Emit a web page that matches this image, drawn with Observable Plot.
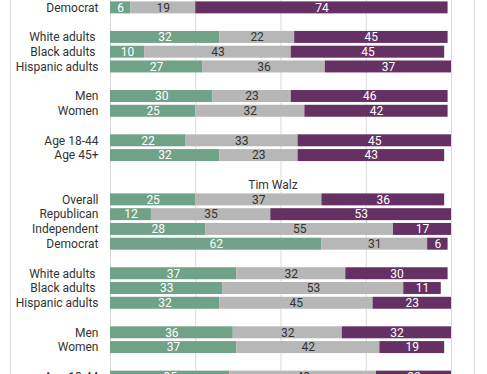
<!DOCTYPE html>
<html><head><meta charset="utf-8">
<script src="https://cdn.jsdelivr.net/npm/d3@7"></script>
<script src="https://cdn.jsdelivr.net/npm/@observablehq/plot@0.6"></script>
<style>
html,body{margin:0;padding:0;background:#fff;}
#wrap{position:relative;width:487px;height:374px;overflow:hidden;}
#frame{position:absolute;left:10px;top:0;width:463px;height:374px;border-left:1px solid #d9d9d9;border-right:1px solid #d9d9d9;pointer-events:none;}
</style></head><body>
<div id="wrap"><div id="chart"></div><div id="frame"></div></div>
<script>
// Series
const seriesNames = ["Favorable", "Neither", "Unfavorable"];
const seriesColors = ["#6fa287", "#b7b7b7", "#653165"];
const gridTicks = [0, 25, 50, 75, 100];

// Upper panel (partially visible)
const topLabels = ["Democrat", "White adults\u00a0", "Black adults\u00a0", "Hispanic adults", "Men", "Women", "Age 18-44", "Age 45+"];
const topGroupSizes = [1, 3, 2, 2];
const topFav     = [6, 32, 10, 27, 30, 25, 22, 32];
const topNeither = [19, 22, 43, 36, 23, 32, 33, 23];
const topUnfav   = [74, 45, 45, 37, 46, 42, 45, 43];

// Tim Walz panel
const walzTitle = "Tim Walz";
const walzLabels = ["Overall", "Republican", "Independent", "Democrat", "White adults\u00a0", "Black adults\u00a0", "Hispanic adults", "Men", "Women", "Age 18-44"];
const walzGroupSizes = [4, 3, 2, 1];
const walzFav     = [25, 12, 28, 62, 37, 33, 32, 36, 37, 35];
const walzNeither = [37, 35, 55, 31, 32, 53, 45, 32, 42, 43];
const walzUnfav   = [36, 53, 17, 6, 30, 11, 23, 32, 19, 22];

// Build rows and table
const rows = [];
const table = [];
function addPanel(key, title, labels, sizes, series) {
  if (title) rows.push({id: key + "-title", label: "", title});
  let k = 0;
  sizes.forEach((n, g) => {
    if (g > 0) rows.push({id: `${key}-gap${g}`, label: ""});
    for (let j = 0; j < n; j++, k++) {
      const id = `${key}-${k}`;
      rows.push({id, label: labels[k]});
      let acc = 0;
      series.forEach((vals, s) => {
        const v = vals[k];
        table.push({row: id, series: seriesNames[s], value: v, x1: acc, x2: acc + v});
        acc += v;
      });
    }
  });
}
addPanel("top", null, topLabels, topGroupSizes, [topFav, topNeither, topUnfav]);
rows.push({id: "between", label: ""});
addPanel("walz", walzTitle, walzLabels, walzGroupSizes, [walzFav, walzNeither, walzUnfav]);

const labelOf = new Map(rows.map(r => [r.id, r.label]));

const chart = Plot.plot({
  width: 487,
  height: 384,
  marginLeft: 110,
  marginRight: 36,
  marginTop: 0,
  marginBottom: 0,
  style: {fontFamily: "Roboto, sans-serif", fontSize: "12px", color: "#333", background: "white"},
  x: {domain: [0, 100], axis: null},
  y: {domain: rows.map(r => r.id), paddingInner: 0.19, paddingOuter: 0.095, round: false, axis: null},
  color: {domain: seriesNames, range: seriesColors},
  marks: [
    Plot.ruleX(gridTicks, {stroke: "#d9d9d9", strokeWidth: 1}),
    Plot.barX(table, {x1: "x1", x2: "x2", y: "row", fill: "series"}),
    Plot.text(table.filter(d => d.series !== "Neither"), {x: d => (d.x1 + d.x2) / 2, y: "row", text: d => String(d.value), fill: "white", fontSize: 12}),
    Plot.text(table.filter(d => d.series === "Neither"), {x: d => (d.x1 + d.x2) / 2, y: "row", text: d => String(d.value), fill: "#333", fontSize: 12}),
    Plot.text(rows.filter(r => r.title), {y: "id", text: "title", frameAnchor: "middle", dx: -8, fill: "#333", fontSize: 12}),
    Plot.axisY({tickSize: 0, tickPadding: 12, tickFormat: id => labelOf.get(id), label: null, fontSize: 12, color: "#333"})
  ]
});
document.getElementById("chart").appendChild(chart);
</script>
</body></html>
